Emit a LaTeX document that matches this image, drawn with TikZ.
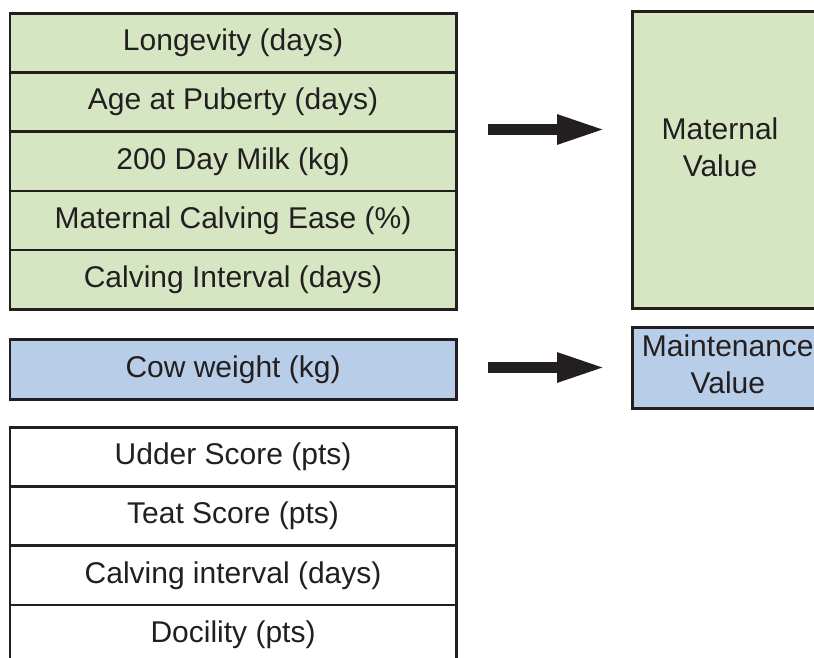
\documentclass[tikz,border=0pt]{standalone}
\usepackage{fontspec}
\setmainfont{Liberation Sans}
\usetikzlibrary{arrows.meta}

\definecolor{traitgreen}{RGB}{214,230,195}
\definecolor{traitblue}{RGB}{184,205,232}
\definecolor{inkdark}{RGB}{35,31,32}

\tikzset{
  cell/.style={draw=inkdark, line width=2.6pt, rectangle, anchor=north west,
               minimum width=446.5pt, minimum height=59.2pt, inner sep=0pt,
               font=\fontsize{30}{36}\selectfont, text=inkdark},
  greencell/.style={cell, fill=traitgreen},
  bluecell/.style={cell, fill=traitblue, minimum height=60pt},
  whitecell/.style={cell, fill=white},
  valuebox/.style={draw=inkdark, line width=2.6pt, rectangle, anchor=north west,
                   minimum width=191pt, inner sep=0pt},
  valuetext/.style={align=center, font=\fontsize{30}{37}\selectfont, text=inkdark},
  bigarrow/.style={draw=inkdark, line width=11pt,
                   -{Triangle[length=49pt, width=27pt]}},
}

\begin{document}
\begin{tikzpicture}[x=1pt, y=-1pt]
  \clip (0,0) rectangle (814,657);

  % maternal traits
  \node[greencell] (longevity) at (8.5,12)    {Longevity (days)};
  \node[greencell] (puberty)   at (8.5,71.2)  {Age at Puberty (days)};
  \node[greencell] (milk)      at (8.5,130.4) {200 Day Milk (kg)};
  \node[greencell] (ease)      at (8.5,189.6) {Maternal Calving Ease (\%)};
  \node[greencell] (interval)  at (8.5,248.8) {Calving Interval (days)};

  % maintenance trait
  \node[bluecell] (weight) at (8.5,338) {Cow weight (kg)};

  % other traits
  \node[whitecell] (udder)     at (8.5,426)   {Udder Score (pts)};
  \node[whitecell] (teat)      at (8.5,485.2) {Teat Score (pts)};
  \node[whitecell] (interval2) at (8.5,544.4) {Calving interval (days)};
  \node[whitecell] (docility)  at (8.5,603.6) {Docility (pts)};

  % resulting values
  \node[valuebox, fill=traitgreen, minimum height=297pt] (maternal) at (631,10) {};
  \node[valuetext] (maternaltext) at (720,147) {Maternal\\Value};
  \node[valuebox, fill=traitblue, minimum height=81pt] (maintenance) at (631,326)
       {\fontsize{30}{37}\selectfont\color{inkdark}\begin{tabular}{@{}c@{}}Maintenance\\Value\end{tabular}};

  % arrows
  \coordinate (arrowAstart) at (488,129.5);
  \coordinate (arrowAend)   at (606,129.5);
  \coordinate (arrowBstart) at (488,367.5);
  \coordinate (arrowBend)   at (606,367.5);
  \draw[bigarrow] (arrowAstart) -- (arrowAend);
  \draw[bigarrow] (arrowBstart) -- (arrowBend);
\end{tikzpicture}
\end{document}
